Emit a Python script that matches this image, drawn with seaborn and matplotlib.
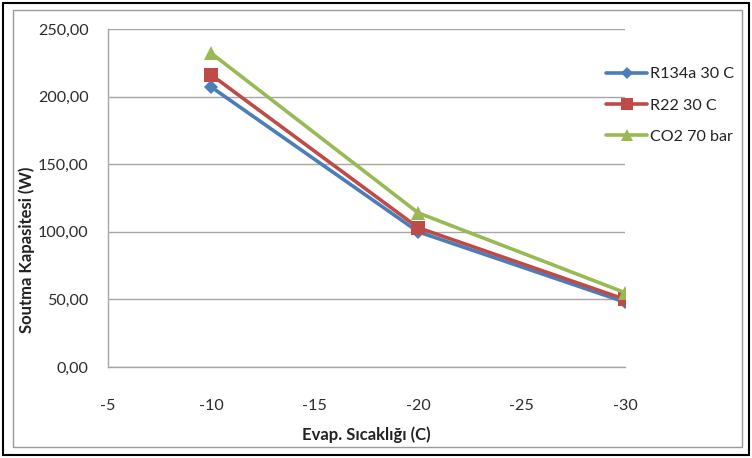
import matplotlib
matplotlib.use("Agg")
import matplotlib.pyplot as plt
from matplotlib.lines import Line2D
from matplotlib.patches import Rectangle
from matplotlib.ticker import FuncFormatter
import pandas as pd
import seaborn as sns

# Evaporation temperatures (C)
evap_temps = [-10, -20, -30]
# Cooling capacity (W) per refrigerant
r134a = [207.0, 100.0, 48.0]
r22 = [216.0, 103.0, 50.0]
co2 = [232.0, 114.0, 55.0]

series_names = ["R134a 30 C", "R22 30 C", "CO2 70 bar"]
x_ticks = [-5, -10, -15, -20, -25, -30]
y_ticks = [0, 50, 100, 150, 200, 250]

colors = ["#4A7EBB", "#BE4B48", "#98B954"]
markers = ["D", "s", "^"]
marker_sizes = [7, 10, 10]

df = pd.concat([
    pd.DataFrame({"temp": evap_temps, "cap": vals, "series": name})
    for name, vals in zip(series_names, [r134a, r22, co2])
])

sns.set_style("white")
plt.rcParams["font.family"] = ["Lato", "DejaVu Sans"]
FS = 11.6

fig = plt.figure(figsize=(7.52, 4.58), dpi=100)
ax = fig.add_axes([0.1436, 0.1987, 0.6875, 0.738])

for name, col, mk, ms in zip(series_names, colors, markers, marker_sizes):
    sub = df[df["series"] == name]
    sns.lineplot(data=sub, x="temp", y="cap", ax=ax, color=col, lw=2.6,
                 marker=mk, markersize=ms, markeredgecolor=col,
                 markeredgewidth=0, legend=False)

ax.set_xlim(-5, -30)
ax.set_ylim(0, 250)
ax.set_xticks(x_ticks)
ax.set_yticks(y_ticks)
ax.yaxis.set_major_formatter(FuncFormatter(lambda v, p: f"{v:.2f}".replace(".", ",")))
ax.xaxis.set_major_formatter(FuncFormatter(lambda v, p: f"{int(v)}"))
ax.tick_params(axis="both", length=0, labelsize=FS, colors="#2B2B2B")
ax.tick_params(axis="x", pad=23)
ax.tick_params(axis="y", pad=14)
ax.grid(axis="y", color="#A6A6A6", lw=1)
ax.grid(axis="x", visible=False)
for side in ["top", "right"]:
    ax.spines[side].set_visible(False)
for side in ["left", "bottom"]:
    ax.spines[side].set_color("#A6A6A6")
    ax.spines[side].set_linewidth(1)

ax.set_xlabel("")
ax.set_ylabel("")
fig.text(0.487, 0.05, "Evap. Sıcaklığı (C)", ha="center", va="center",
         fontsize=FS + 0.4, fontweight="bold", color="#222222")
fig.text(0.035, 0.455, "Soutma Kapasitesi (W)", ha="center", va="center",
         rotation=90, fontsize=FS + 0.4, fontweight="bold", color="#222222")

handles = [Line2D([0], [0], color=c, lw=2.6, marker=m, markersize=s * 0.85,
                  markeredgewidth=0)
           for c, m, s in zip(colors, markers, marker_sizes)]
fig.legend(handles, series_names, loc="upper left",
           bbox_to_anchor=(0.786, 0.885), frameon=False, fontsize=FS,
           handlelength=2.6, handletextpad=0.15, labelspacing=1.05,
           labelcolor="#222222")

# chart frame
fig.patches.append(Rectangle((0.004, 0.006), 0.992, 0.988, transform=fig.transFigure,
                             fill=False, edgecolor="black", lw=1.5))
fig.patches.append(Rectangle((0.017, 0.024), 0.970, 0.954, transform=fig.transFigure,
                             fill=False, edgecolor="#9A9A9A", lw=1.0))

fig.savefig("out.png", dpi=100)
